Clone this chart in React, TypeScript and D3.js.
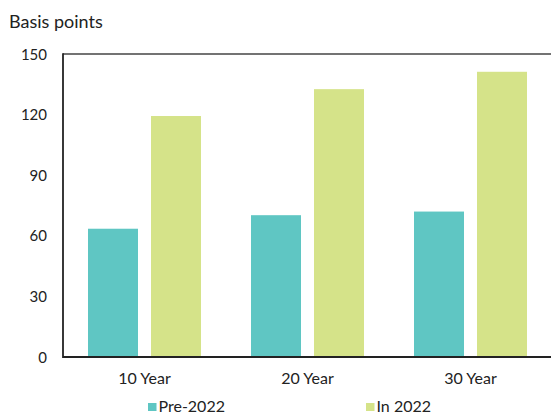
import React from 'react';
import * as d3 from 'd3';

const categories = ['10 Year', '20 Year', '30 Year'];
const seriesNames = ['Pre-2022', 'In 2022'];
const pre2022 = [63.5, 70.2, 72];
const in2022 = [119.3, 132.6, 141.2];
const yTicks = [0, 30, 60, 90, 120, 150];
const colors = ['#5fc6c3', '#d5e389'];

export default function App() {
  const W = 551, H = 414;
  const left = 63, right = 552, top = 54, bottom = 357;
  const x = d3.scaleBand<string>().domain(categories).range([left, right]).paddingInner(0).paddingOuter(0);
  const y = d3.scaleLinear().domain([0, 150]).range([bottom, top]);
  const barW = 50;
  const gap = 13;
  const font = 'Lato, "Open Sans", sans-serif';
  const series = [pre2022, in2022];
  const legendX = [148, 366];
  return (
    <svg width={W} height={H} style={{ position: 'absolute', left: 0, top: 0 }} fontFamily={font}>
      <rect width={W} height={H} fill="#fff" />
      <text x={9} y={28} fontSize={18} fill="#222">Basis points</text>
      {categories.map((c, i) => {
        const cx = (x(c) as number) + x.bandwidth() / 2;
        return series.map((s, j) => {
          const x0 = j === 0 ? cx - gap / 2 - barW : cx + gap / 2;
          return (
            <rect key={c + j} x={x0} y={y(s[i])} width={barW} height={bottom - y(s[i])} fill={colors[j]} />
          );
        });
      })}
      <line x1={left} x2={W} y1={top} y2={top} stroke="#444" strokeWidth={1.5} />
      <line x1={left} x2={left} y1={top - 0.75} y2={bottom + 1} stroke="#222" strokeWidth={1.8} />
      <line x1={left} x2={W} y1={bottom} y2={bottom} stroke="#222" strokeWidth={1.8} />
      {yTicks.map(t => (
        <text key={t} x={47} y={y(t) + 5.5} fontSize={15} textAnchor="end" fill="#222">{t}</text>
      ))}
      {categories.map(c => (
        <text key={c} x={(x(c) as number) + x.bandwidth() / 2} y={384} fontSize={16} textAnchor="middle" fill="#222">{c}</text>
      ))}
      {seriesNames.map((n, j) => {
        const lx = legendX[j];
        return (
          <g key={n}>
            <rect x={lx} y={403} width={8.5} height={8} fill={colors[j]} />
            <text x={lx + 10.5} y={411.5} fontSize={16} fill="#222">{n}</text>
          </g>
        );
      })}
    </svg>
  );
}
